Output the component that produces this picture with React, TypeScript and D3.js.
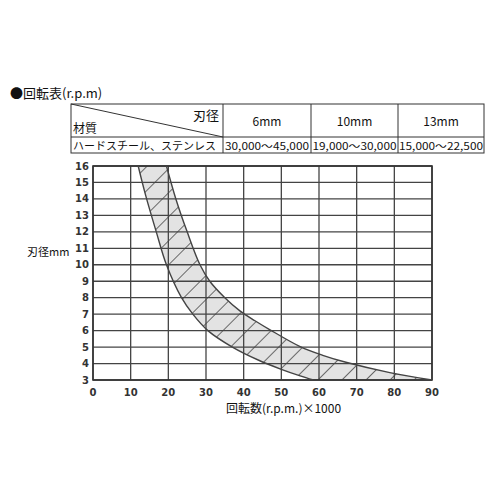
import React from "react";
import * as d3 from "d3";

const xTicks = [0, 10, 20, 30, 40, 50, 60, 70, 80, 90];
const yTicks = [3, 4, 5, 6, 7, 8, 9, 10, 11, 12, 13, 14, 15, 16];

const upperX = [19.5, 22, 25, 28.4, 31, 35, 39, 43, 47, 55, 61, 67.4, 78.8, 90];
const upperY = [16, 14, 12, 10, 9, 8, 7.2, 6.6, 6.05, 5.03, 4.5, 4.06, 3.45, 3];

const lowerX = [12, 14, 16.8, 19.5, 23.5, 26.5, 30.5, 37, 44, 50, 55, 58.5];
const lowerY = [16, 14.2, 12, 10, 8, 7, 6, 5, 4.2, 3.65, 3.25, 3];

const tableHeaders = ["6mm", "10mm", "13mm"];
const tableValues = ["30,000～45,000", "19,000～30,000", "15,000～22,500"];
const materialLabel = "ハードスチール、ステンレス";

const font = "'Noto Sans CJK JP', 'Noto Sans', sans-serif";

export default function App() {
  const x = d3.scaleLinear().domain([0, 90]).range([93, 432]);
  const y = d3.scaleLinear().domain([3, 16]).range([380, 166]);

  const upper: [number, number][] = upperX.map((v, i) => [x(v), y(upperY[i])]);
  const lower: [number, number][] = lowerX.map((v, i) => [x(v), y(lowerY[i])]);

  const line = d3.line().curve(d3.curveCatmullRom.alpha(0.5));
  const upperPath = line(upper) || "";
  const lowerPath = line(lower) || "";
  const lowerRev = line([...lower].reverse()) || "";
  const bandPath = upperPath + "L" + lowerRev.slice(1) + "Z";

  const colX = [71, 223, 311, 398, 484];
  const rowY = [104, 137, 153];

  return (
    <svg width={500} height={500} style={{ position: "absolute", left: 0, top: 0, background: "#fff" }} fontFamily={font}>
      <defs>
        <clipPath id="band">
          <path d={bandPath} />
        </clipPath>
        <pattern id="hatch" width={17} height={17} patternUnits="userSpaceOnUse" patternTransform="rotate(45)">
          <line x1={0} y1={0} x2={0} y2={17} stroke="#333" strokeWidth={1.4} />
        </pattern>
        <clipPath id="plot">
          <rect x={x(0)} y={y(16)} width={x(90) - x(0)} height={y(3) - y(16)} />
        </clipPath>
      </defs>

      {/* Title */}
      <text x={10} y={98} fontSize={13} fill="#111">●回転表(r.p.m)</text>

      {/* Table */}
      <g stroke="#333" strokeWidth={1} fill="none">
        <rect x={colX[0]} y={rowY[0]} width={colX[4] - colX[0]} height={rowY[2] - rowY[0]} />
        <line x1={colX[0]} x2={colX[4]} y1={rowY[1]} y2={rowY[1]} />
        {colX.slice(1, 4).map((c) => (
          <line key={c} x1={c} x2={c} y1={rowY[0]} y2={rowY[2]} />
        ))}
        <line x1={colX[0]} y1={rowY[0]} x2={colX[1]} y2={rowY[1]} />
      </g>
      <text x={colX[1] - 4} y={120} fontSize={13} textAnchor="end" fill="#111">刃径</text>
      <text x={colX[0] + 2} y={133} fontSize={12} fill="#111">材質</text>
      {tableHeaders.map((h, i) => (
        <text key={h} x={(colX[i + 1] + colX[i + 2]) / 2} y={126} fontSize={12} textAnchor="middle" fill="#111">{h}</text>
      ))}
      <text x={colX[0] + 2} y={150} fontSize={11} fill="#111">{materialLabel}</text>
      {tableValues.map((v, i) => (
        <text key={v} x={(colX[i + 1] + colX[i + 2]) / 2} y={150} fontSize={10} textAnchor="middle" fill="#111" textLength={84} lengthAdjust="spacingAndGlyphs">{v}</text>
      ))}

      {/* Band fill */}
      <g clipPath="url(#plot)">
        <path d={bandPath} fill="#e3e3e3" stroke="none" />
        <rect x={x(0)} y={y(16)} width={x(90) - x(0)} height={y(3) - y(16)} fill="url(#hatch)" clipPath="url(#band)" />
      </g>

      {/* Grid */}
      <g stroke="#444" strokeWidth={1.3}>
        {xTicks.map((t) => (
          <line key={"gx" + t} x1={x(t)} x2={x(t)} y1={y(16)} y2={y(3)} />
        ))}
        {yTicks.map((t) => (
          <line key={"gy" + t} x1={x(0)} x2={x(90)} y1={y(t)} y2={y(t)} />
        ))}
      </g>
      <rect x={x(0)} y={y(16)} width={x(90) - x(0)} height={y(3) - y(16)} fill="none" stroke="#333" strokeWidth={1.6} />

      {/* Curves */}
      <g clipPath="url(#plot)" fill="none" stroke="#444" strokeWidth={1.4}>
        <path d={upperPath} />
        <path d={lowerPath} />
      </g>

      {/* Tick labels */}
      {yTicks.map((t) => (
        <text key={"ty" + t} x={x(0) - 4} y={y(t) + 3.5} fontSize={10} fontWeight="bold" textAnchor="end" fill="#333" fontFamily="'DejaVu Sans', sans-serif">{t}</text>
      ))}
      {xTicks.map((t) => (
        <text key={"tx" + t} x={x(t)} y={396} fontSize={10} fontWeight="bold" textAnchor="middle" fill="#333" fontFamily="'DejaVu Sans', sans-serif">{t}</text>
      ))}

      {/* Axis titles */}
      <text x={27} y={256} fontSize={11} fill="#111">刃径mm</text>
      <text x={226} y={413} fontSize={12} fill="#111">回転数(r.p.m.)×1000</text>
    </svg>
  );
}
